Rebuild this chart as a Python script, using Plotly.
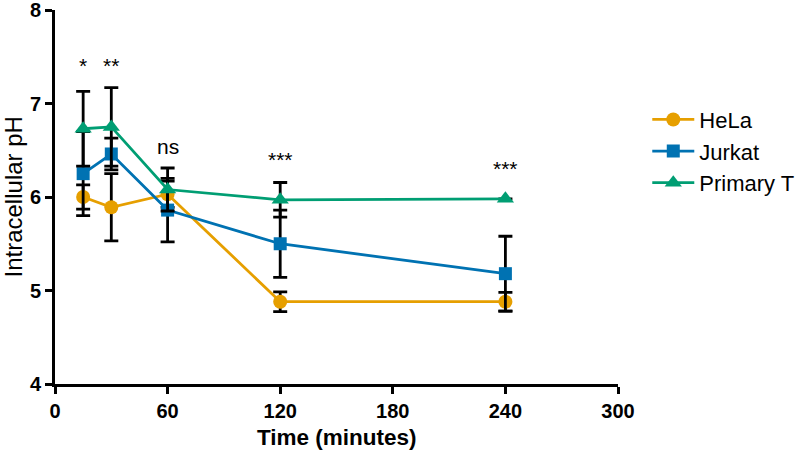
import plotly.graph_objects as go

time_min = [15, 30, 60, 120, 240]
hela_ph = [6.00, 5.89, 6.03, 4.88, 4.88]
hela_err = [0.13, 0.36, 0.14, 0.105, 0.10]
jurkat_ph = [6.25, 6.46, 5.86, 5.50, 5.18]
jurkat_err = [0.45, 0.17, 0.34, 0.36, 0.40]
primary_ph = [6.73, 6.75, 6.08, 5.97, 5.98]
primary_err = [0.40, 0.42, 0.23, 0.185, 0.0]

sig_x = [15, 30, 60, 120, 240]
sig_y = [7.41, 7.41, 6.54, 6.40, 6.31]
sig_text = ["*", "**", "ns", "***", "***"]

x_ticks = [0, 60, 120, 180, 240, 300]
y_ticks = [4, 5, 6, 7, 8]

font = "Arial, Liberation Sans, Helvetica, sans-serif"

fig = go.Figure()
series = [
    ("HeLa", hela_ph, hela_err, "#E69F00", "circle", 14),
    ("Jurkat", jurkat_ph, jurkat_err, "#0072B2", "square", 13),
    ("Primary T", primary_ph, primary_err, "#009E73", "triangle-up", 15),
]
for name, ys, errs, color, sym, size in series:
    fig.add_trace(go.Scatter(
        x=time_min, y=ys, name=name, mode="lines+markers",
        line=dict(color=color, width=2.8),
        marker=dict(color=color, symbol=sym, size=size),
        error_y=dict(type="data", array=errs, visible=True, color="black",
                     thickness=2.8, width=7),
    ))

for x, y, t in zip(sig_x, sig_y, sig_text):
    fig.add_annotation(x=x, y=y, text=t, showarrow=False,
                       font=dict(family=font, size=21, color="black"))

fig.add_annotation(xref="paper", yref="paper", x=0, xshift=-42.5, y=0.5, text="Intracellular pH",
                   textangle=-90, showarrow=False, xanchor="center", yanchor="middle",
                   font=dict(family=font, size=24, color="black"))
fig.add_annotation(xref="paper", yref="paper", x=0.5, y=0, yshift=-53.5, text="<b>Time (minutes)</b>",
                   showarrow=False, xanchor="center", yanchor="middle",
                   font=dict(family=font, size=22.5, color="black"))

fig.update_layout(
    width=800, height=451,
    margin=dict(l=54.5, r=181.5, t=10, b=66.5, autoexpand=False),
    plot_bgcolor="white", paper_bgcolor="white",
    font=dict(family=font, color="black"),
    showlegend=True,
    legend=dict(x=1.052, y=0.763, xanchor="left", yanchor="top",
                font=dict(family=font, size=22, color="black"),
                bgcolor="rgba(0,0,0,0)", tracegroupgap=0, itemwidth=42),
    xaxis=dict(range=[0, 300], tickvals=x_ticks, showgrid=False, zeroline=False,
               showline=True, linecolor="black", linewidth=3,
               ticks="outside", ticklen=7, tickwidth=3, tickcolor="black",
               tickfont=dict(family=font, size=20, color="black", weight="bold"),
               ticklabeloverflow="allow", automargin=False),
    yaxis=dict(range=[4, 8], tickvals=y_ticks, showgrid=False, zeroline=False,
               showline=True, linecolor="black", linewidth=3,
               ticks="outside", ticklen=7, tickwidth=3, tickcolor="black",
               tickfont=dict(family=font, size=20, color="black", weight="bold"),
               ticklabeloverflow="allow", automargin=False),
)

fig.write_html("out.html", config={"displayModeBar": False},
               post_script="document.body.style.margin='0';")
